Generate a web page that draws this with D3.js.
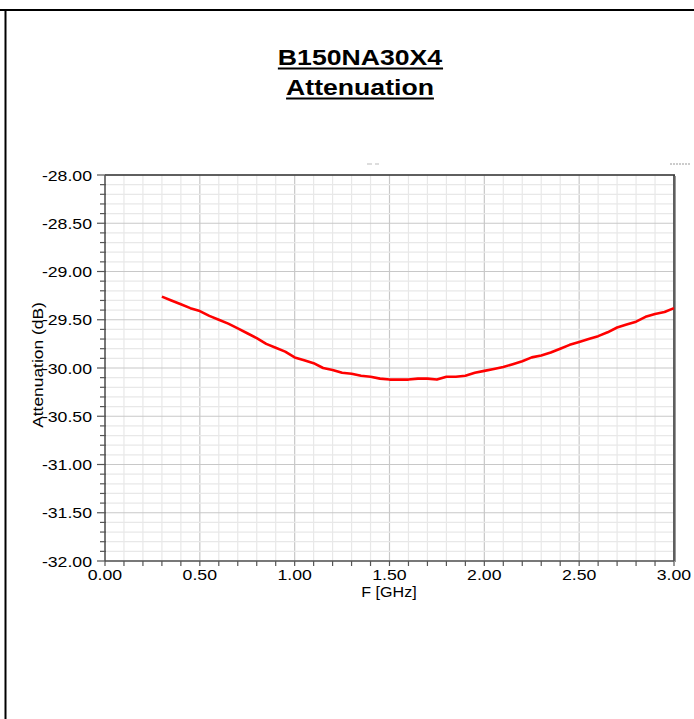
<!DOCTYPE html>
<html>
<head>
<meta charset="utf-8">
<script src="https://cdn.jsdelivr.net/npm/d3@7"></script>
<style>
    body { margin: 0; background: #fff; }
    text { font-family: "Liberation Sans", Arial, sans-serif; fill: #000; }
</style>
</head>
<body>
<div class="chartContainer"></div>
<script>
// values
var freqs = [0.30, 0.35, 0.40, 0.45, 0.50, 0.55, 0.60, 0.65, 0.70, 0.75,
             0.80, 0.85, 0.90, 0.95, 1.00, 1.05, 1.10, 1.15, 1.20, 1.25,
             1.30, 1.35, 1.40, 1.45, 1.50, 1.55, 1.60, 1.65, 1.70, 1.75,
             1.80, 1.85, 1.90, 1.95, 2.00, 2.05, 2.10, 2.15, 2.20, 2.25,
             2.30, 2.35, 2.40, 2.45, 2.50, 2.55, 2.60, 2.65, 2.70, 2.75,
             2.80, 2.85, 2.90, 2.95, 3.00];
var attenuation = [-29.26, -29.30, -29.34, -29.38, -29.41, -29.46, -29.50, -29.54, -29.59, -29.64,
                   -29.69, -29.75, -29.79, -29.83, -29.89, -29.92, -29.95, -30.00, -30.02, -30.05,
                   -30.06, -30.08, -30.09, -30.11, -30.12, -30.12, -30.12, -30.11, -30.11, -30.12,
                   -30.09, -30.09, -30.08, -30.05, -30.03, -30.01, -29.99, -29.96, -29.93, -29.89,
                   -29.87, -29.84, -29.80, -29.76, -29.73, -29.70, -29.67, -29.63, -29.58, -29.55,
                   -29.52, -29.47, -29.44, -29.42, -29.38];
var xTicks = [0, 0.5, 1, 1.5, 2, 2.5, 3];
var yTicks = [-28, -28.5, -29, -29.5, -30, -30.5, -31, -31.5, -32];
var titleLines = ["B150NA30X4", "Attenuation"];

function attenuationChart() {
    var w = 694,
        h = 719,
        pl = 105, pr = 674, pt = 175, pb = 561,
        stretch = 1.14;

    var svg = d3.select(".chartContainer")
        .append("svg")
        .attr("width", w)
        .attr("height", h);

    // widen text a little, the reference font is drawn wider than Arial
    function widen(sel, k) {
        sel.attr("lengthAdjust", "spacingAndGlyphs")
            .attr("textLength", function () { return this.getComputedTextLength() * k; });
    }
    // plain hyphen minus, like the reference
    function fmt(d) { return d.toFixed(2); }

    // page frame
    svg.append("line").attr("x1", 0).attr("x2", w).attr("y1", 10).attr("y2", 10)
        .attr("stroke", "#000").attr("stroke-width", 2);
    svg.append("line").attr("x1", 5.5).attr("x2", 5.5).attr("y1", 10).attr("y2", h)
        .attr("stroke", "#000").attr("stroke-width", 2);

    var x = d3.scaleLinear().domain([0, 3]).range([pl, pr]);
    var y = d3.scaleLinear().domain([-28, -32]).range([pt, pb]);

    var minorX = d3.range(0, 31).map(function (i) { return i / 10; });
    var minorY = d3.range(0, 41).map(function (i) { return -28 - i / 10; });

    // grid
    var grid = svg.append("g");
    grid.selectAll(".gx").data(minorX).enter().append("line")
        .attr("x1", function (d) { return x(d); }).attr("x2", function (d) { return x(d); })
        .attr("y1", pt).attr("y2", pb)
        .attr("stroke", function (d, i) { return i % 5 === 0 ? "#c8c8c8" : "#e8e8e8"; })
        .attr("stroke-width", 1.2);
    grid.selectAll(".gy").data(minorY).enter().append("line")
        .attr("x1", pl).attr("x2", pr)
        .attr("y1", function (d) { return y(d); }).attr("y2", function (d) { return y(d); })
        .attr("stroke", function (d, i) { return i % 5 === 0 ? "#c8c8c8" : "#e8e8e8"; })
        .attr("stroke-width", 1.2);

    // frame of the plot
    svg.append("line").attr("x1", pl).attr("x2", pr + 1).attr("y1", pt).attr("y2", pt)
        .attr("stroke", "#333").attr("stroke-width", 1.5);
    svg.append("line").attr("x1", pr + 1.5).attr("x2", pr + 1.5).attr("y1", pt + 1).attr("y2", pb + 1)
        .attr("stroke", "#999").attr("stroke-width", 1);
    svg.append("line").attr("x1", pr).attr("x2", pr).attr("y1", pt).attr("y2", pb)
        .attr("stroke", "#333").attr("stroke-width", 1.5);

    // y axis
    var yAxis = svg.append("g").attr("transform", "translate(" + pl + ",0)");
    yAxis.append("line").attr("y1", pt).attr("y2", pb).attr("stroke", "#555").attr("stroke-width", 1.5);
    yAxis.selectAll(".tk").data(minorY).enter().append("line")
        .attr("x1", function (d, i) { return i % 5 === 0 ? -8 : -5; }).attr("x2", 1)
        .attr("y1", function (d) { return y(d); }).attr("y2", function (d) { return y(d); })
        .attr("stroke", "#555").attr("stroke-width", 1.2);
    yAxis.selectAll(".lb").data(yTicks).enter().append("text")
        .attr("x", -13)
        .attr("y", function (d) { return y(d) + 5.5; })
        .attr("text-anchor", "end")
        .style("font-size", "15.5px")
        .text(fmt)
        .call(widen, stretch);

    // x axis
    var xAxis = svg.append("g").attr("transform", "translate(0," + pb + ")");
    xAxis.append("line").attr("x1", pl).attr("x2", pr).attr("stroke", "#555").attr("stroke-width", 1.5);
    xAxis.selectAll(".tk").data(minorX).enter().append("line")
        .attr("x1", function (d) { return x(d); }).attr("x2", function (d) { return x(d); })
        .attr("y1", 0).attr("y2", 5)
        .attr("stroke", "#555").attr("stroke-width", 1.2);
    xAxis.selectAll(".lb").data(xTicks).enter().append("text")
        .attr("x", function (d) { return x(d); })
        .attr("y", 19)
        .attr("text-anchor", "middle")
        .style("font-size", "15.5px")
        .text(fmt)
        .call(widen, stretch);

    // axis titles
    svg.append("text")
        .attr("x", 389).attr("y", 597)
        .attr("text-anchor", "middle")
        .style("font-size", "15px")
        .text("F [GHz]")
        .call(widen, 1.07);
    svg.append("text")
        .attr("transform", "translate(43,365) rotate(-90)")
        .attr("text-anchor", "middle")
        .style("font-size", "15px")
        .text("Attenuation (dB)")
        .call(widen, 1.16);

    // faint legend leftovers above the plot
    svg.append("line").attr("x1", 367).attr("x2", 372).attr("y1", 164).attr("y2", 164).attr("stroke", "#bbb");
    svg.append("line").attr("x1", 375).attr("x2", 379).attr("y1", 164).attr("y2", 164).attr("stroke", "#bbb");
    svg.append("line").attr("x1", 670).attr("x2", 690).attr("y1", 164).attr("y2", 164)
        .attr("stroke", "#999").attr("stroke-dasharray", "2,1");

    // title
    var title = svg.append("g");
    title.selectAll("text").data(titleLines).enter().append("text")
        .attr("x", 360)
        .attr("y", function (d, i) { return 65 + i * 30; })
        .attr("text-anchor", "middle")
        .style("font-size", "22px")
        .style("font-weight", "bold")
        .text(function (d) { return d; })
        .call(widen, 1.21)
        .each(function () {
            var b = this.getBBox();
            var yy = +d3.select(this).attr("y") + 3.5;
            title.append("line")
                .attr("x1", b.x).attr("x2", b.x + b.width)
                .attr("y1", yy).attr("y2", yy)
                .attr("stroke", "#000").attr("stroke-width", 2.2);
        });

    // attenuation curve
    var data = freqs.map(function (f, i) { return { f: f, v: attenuation[i] }; });
    var line = d3.line()
        .x(function (d) { return x(d.f); })
        .y(function (d) { return y(d.v); });
    svg.append("path")
        .datum(data)
        .attr("d", line)
        .attr("fill", "none")
        .attr("stroke", "#ff0000")
        .attr("stroke-width", 2.6)
        .attr("stroke-linejoin", "round");
}

attenuationChart();
</script>
</body>
</html>
